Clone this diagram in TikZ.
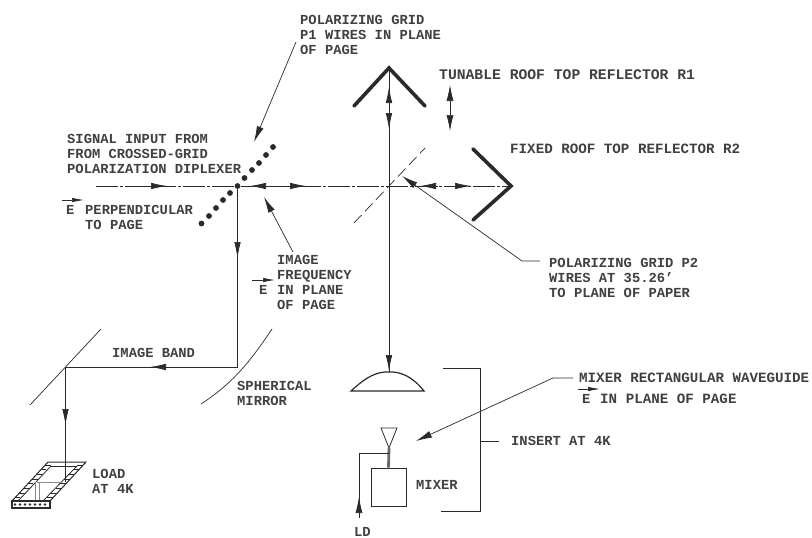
\documentclass[tikz,border=0pt]{standalone}
\usepackage{fontspec}
\setmainfont{Liberation Mono}
\usetikzlibrary{arrows.meta,positioning,calc}
\definecolor{ink}{HTML}{2A2A2A}
\definecolor{inkt}{HTML}{404040}
\tikzset{
  lbl/.style={anchor=west,align=left,inner sep=0pt,font=\fontsize{13.8}{15.2}\selectfont\bfseries,text=inkt},
  lblw/.style={lbl,font=\fontsize{14.2}{15.2}\selectfont\bfseries},
  ray/.style={draw=ink,line width=0.8pt},
  thin/.style={draw=ink,line width=0.7pt},
  roof/.style={draw=ink,line width=3.6pt,line cap=round,line join=miter},
  ar/.style={-{Latex[length=16pt,width=6.5pt]},draw=ink,line width=0.7pt},
  lead/.style={-{Latex[length=16pt,width=7pt]},draw=ink,line width=0.7pt},
  evec/.style={-{Latex[length=12pt,width=4.5pt]},draw=ink,line width=0.7pt},
}

\begin{document}
\begin{tikzpicture}[x=1pt,y=-1pt]
\useasboundingbox (0,0) rectangle (812,538);
% key points of the beam
\coordinate (gridA) at (237.5,186);
\coordinate (gridB) at (389,186);
\coordinate (inlet) at (96,186);
\coordinate (apexA) at (389,68);
\coordinate (apexB) at (511,186);
\coordinate (curved) at (237.5,367);
\coordinate (flat) at (65.5,367);
\coordinate (lensTop) at (389,372);

% beam
\draw[ray,dash pattern=on 22pt off 2pt on 3pt off 2pt] (inlet) -- (apexB);
\draw[ray] (apexA) -- (lensTop);
\draw[ray] (gridA) -- (curved) -- (flat) -- (65.5,482);
\draw[ar] (147,186) -- (167,186);
\draw[ar] (270,186) -- (250,186);
\draw[ar] (286,186) -- (306,186);
\draw[ar] (438,186) -- (420,186);
\draw[ar] (453,186) -- (471,186);
\draw[ar] (389,106) -- (389,87);
\draw[ar] (389,111) -- (389,129);
\draw[ar] (237.5,240) -- (237.5,258);
\draw[ar] (389,352) -- (389,371);
\draw[ar] (168,367) -- (150,367);
\draw[ar] (65.5,407) -- (65.5,425);

% grid P1 wires
\foreach \px/\py in {201.5/223.5,209/216,216/208,223/200,230/193,237.5/186,244.5/178,252/170,259/163,266/155,273/147}
  \fill[ink] (\px,\py) circle (2.9pt);
% grid P2
\draw[thin,dash pattern=on 11pt off 5pt] (354,223) -- (gridB) -- (425,148);

% roof top reflectors
\draw[roof] (354,106) -- (apexA) -- (425,106);
\draw[roof] (473,149) -- (apexB) -- (473,220);
% tuning of R1
\coordinate (tuneUp) at (450,85);
\coordinate (tuneDown) at (450,131);
\draw[{Latex[length=16pt,width=7pt]}-{Latex[length=16pt,width=7pt]},draw=ink,line width=0.7pt] (tuneUp) -- (tuneDown);

% mirrors
\draw[thin] (272,329) .. controls (250,362) and (232,384) .. (201,404);
\draw[thin] (101,329) -- (30,405);

% lens
\draw[ray,line width=1.2pt] (351,391) -- (424,391) .. controls (416,381) and (406,373) .. (393,372) -- (385,372) .. controls (372,373) and (362,381) .. (351,391) -- cycle;

% horn, mixer, LO feed
\node[draw=ink,line width=0.9pt,minimum width=35pt,minimum height=38pt,inner sep=0pt] (mixerbox) at (388.5,487) {};
\draw[ray] (381,428) -- (397,428) -- (389,448) -- cycle;
\draw[draw=ink!70,line width=2.8pt] (389,448) -- (mixerbox.north);
\draw[ray] (389,453) -- (359,453) -- (359,518);
\draw[-{Latex[length=16pt,width=7pt]},draw=ink,line width=0.7pt] (359,518) -- (359,497);

% insert bracket
\draw[ray] (443,368) -- (480,368) -- (480,511) -- (441,511);
\draw[ray] (480,441) -- (499,441);

% load
\draw[ray,line width=1pt] (12,501) -- (48,462) -- (86,462) -- (50,501);
\draw[ray,line width=1.2pt] (12,501) rectangle (50,508);
\draw[ray] (18,501) -- (51,466);
\draw[ray] (43,501) -- (77,466);
\draw[ray] (51,466) -- (77,466);
\draw[draw=ink!55,line width=0.9pt] (37,482) -- (62,482);
\draw[draw=ink!55,line width=0.9pt] (35,482) -- (35,500);
\draw[draw=ink!55,line width=0.9pt] (39,482) -- (39,500);
\foreach \ix in {0,1,...,6}
  \fill[ink] ({15+\ix*5},504.5) circle (1.3pt);
\foreach \t in {0.08,0.2,0.32,0.44,0.56,0.68,0.8,0.92}{
  \draw[ray,line width=1.2pt] ({12+36*\t},{501-39*\t}) -- ++(5.5,0);
  \draw[ray,line width=1.2pt] ({50+36*\t},{501-39*\t}) -- ++(-6,0);
}

% leaders
\draw[lead] (296,42) -- (254,142);
\draw[lead] (293,252) -- (264,197);
\draw[lead] (540,261) -- (522,261) -- (402,176);
\draw[lead] (573,378) -- (553,378) -- (416,441);

% labels
\node[lbl] (lblGridA) at (300,35) {POLARIZING GRID\\P1 WIRES IN PLANE\\OF PAGE};
\node[lblw,font=\fontsize{14.7}{15.2}\selectfont\bfseries] (lblTune) at (439,75) {TUNABLE ROOF TOP REFLECTOR R1};
\node[lblw] (lblFixed) at (510,149) {FIXED ROOF TOP REFLECTOR R2};
\node[lbl] (lblInput) at (67,154) {SIGNAL INPUT FROM\\FROM CROSSED-GRID\\POLARIZATION DIPLEXER};
\node[lbl] (lblPerp) at (85,217.5) {PERPENDICULAR\\TO PAGE};
\node[lbl] (lblPerpE) at (66,210) {E};
\node[lbl] (lblImage) at (277,282.5) {IMAGE\\FREQUENCY\\IN PLANE\\OF PAGE};
\node[lbl] (lblImageE) at (259,290) {E};
\node[lbl] (lblBand) at (112,353) {IMAGE BAND};
\node[lbl] (lblMirror) at (237,393.5) {SPHERICAL\\MIRROR};
\node[lbl] (lblLoad) at (92,481) {LOAD\\AT 4K};
\node[lbl] (lblLo) at (354,532) {LD};
\node[lbl] (lblMixer) at (416,485) {MIXER};
\node[lbl] (lblInsert) at (511,441) {INSERT AT 4K};
\node[lbl] (lblGridB) at (549,278) {POLARIZING GRID P2\\WIRES AT 35.26'\\TO PLANE OF PAPER};
\node[lblw] (lblGuide) at (579,378) {MIXER RECTANGULAR WAVEGUIDE};
\node[lblw] (lblGuideB) at (600,399) {IN PLANE OF PAGE};
\node[lbl] (lblGuideE) at (582,399) {E};

% E vector arrows
\draw[evec] (62,200) -- (84,200);
\draw[evec] (252,280) -- (275,280);
\draw[evec] (578,389) -- (600,389);
\end{tikzpicture}
\end{document}
